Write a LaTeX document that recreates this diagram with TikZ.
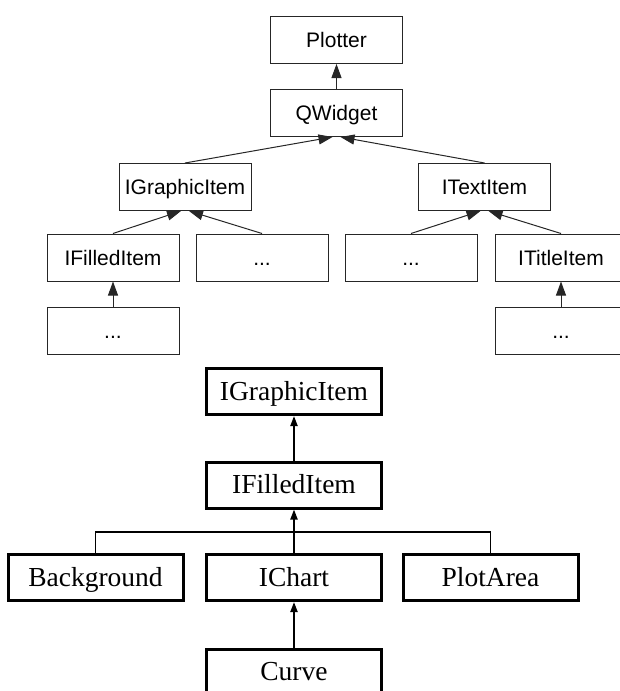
\documentclass[tikz,border=0pt]{standalone}
\usepackage{fontspec}
\setmainfont{Liberation Serif}
\newfontfamily\qtfont{Liberation Sans}
\usetikzlibrary{positioning, arrows.meta, calc}

\begin{document}
\begin{tikzpicture}[x=1pt, y=-1pt, >={Triangle[length=14pt, width=10pt]}]
    \tikzset{qbox/.style={draw=black!85, line width=1pt, minimum width=132pt, minimum height=47pt, inner sep=0pt, text height=15.5pt, text depth=0.5pt, font=\qtfont\fontsize{21}{25}\selectfont},
             cbox/.style={draw, line width=3pt, minimum width=175pt, minimum height=46pt, inner sep=0pt, text height=18pt, text depth=1pt, font=\fontsize{27.5}{32}\selectfont},
             qarr/.style={->, draw=black!85, line width=1pt},
             carr/.style={-{Triangle[length=10pt, width=7pt]}, line width=2pt},
             cline/.style={line width=1.5pt}}
    \useasboundingbox (0,0) rectangle (620,691);

    % Qt widget hierarchy
    \node[qbox] (plotter) at (336.5,40) {Plotter};
    \node[qbox] (qwidget) at (336.5,113) {QWidget};
    \node[qbox] (gitem) at (185,187) {IGraphicItem};
    \node[qbox] (titem) at (484.5,187) {ITextItem};
    \node[qbox] (fitem) at (113,257.5) {IFilledItem};
    \node[qbox] (gdots) at (262,257.5) {...};
    \node[qbox] (tdots) at (411,257.5) {...};
    \node[qbox] (ttitle) at (561,257.5) {ITitleItem};
    \node[qbox] (fdots) at (113,330.5) {...};
    \node[qbox] (ttdots) at (561,330.5) {...};

    \draw[qarr] (qwidget.north) -- (plotter.south);
    \draw[qarr] (gitem.north) -- ([xshift=-4pt]qwidget.south);
    \draw[qarr] (titem.north) -- ([xshift=4pt]qwidget.south);
    \draw[qarr] (fitem.north) -- ([xshift=-4pt]gitem.south);
    \draw[qarr] (gdots.north) -- ([xshift=4pt]gitem.south);
    \draw[qarr] (tdots.north) -- ([xshift=-4pt]titem.south);
    \draw[qarr] (ttitle.north) -- ([xshift=4pt]titem.south);
    \draw[qarr] (fdots.north) -- (fitem.south);
    \draw[qarr] (ttdots.north) -- (ttitle.south);

    % graphic items
    \node[cbox] (cgitem) at (294,391.5) {IGraphicItem};
    \node[cbox] (cfitem) at (294,485) {IFilledItem};
    \node[cbox] (bground) at (95.5,577.5) {Background};
    \node[cbox] (ichart) at (294,577.5) {IChart};
    \node[cbox] (parea) at (490.5,577.5) {PlotArea};
    \node[cbox] (curve) at (294,672) {Curve};
    \coordinate (fork) at (294,532);

    \draw[carr] (cfitem.north) -- (cgitem.south);
    \draw[carr] (ichart.north) -- (cfitem.south);
    \draw[cline] (bground.north) |- (fork) -| (parea.north);
    \draw[carr] (curve.north) -- (ichart.south);
\end{tikzpicture}
\end{document}
